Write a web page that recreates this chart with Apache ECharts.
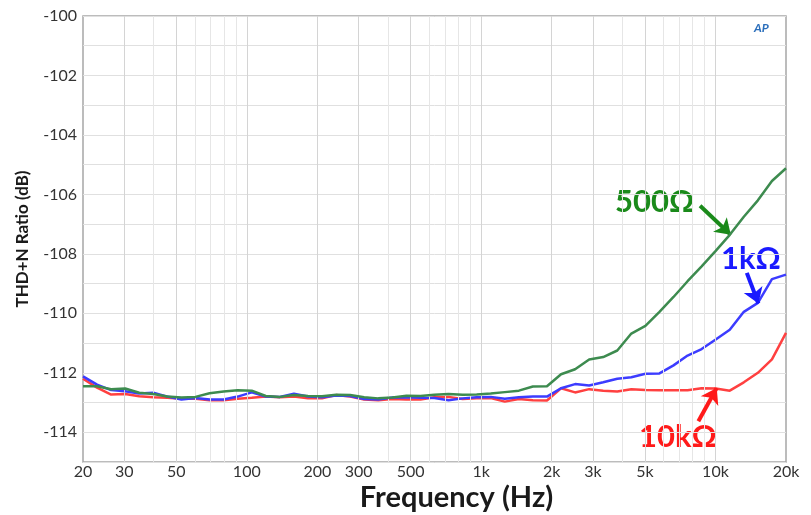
<!DOCTYPE html>
<html>
<head>
<meta charset="utf-8">
<script src="https://cdn.jsdelivr.net/npm/echarts@6/dist/echarts.min.js"></script>
<style>
  html, body { margin: 0; padding: 0; background: #fff; }
  #chart { width: 811px; height: 515px; }
</style>
</head>
<body>
<div id="chart"></div>
<script>
// Sweep frequencies (Hz)
var freqs = [20, 22.96, 26.36, 30.27, 34.76, 39.91, 45.82, 52.61, 60.41, 69.36,
  79.62, 91.42, 104.97, 120.5, 138.4, 158.9, 182.4, 209.4, 240.5, 276.1,
  317, 364, 418, 480, 551, 632, 726, 834, 957, 1099,
  1262, 1449, 1663, 1910, 2193, 2518, 2891, 3319, 3811, 4375,
  5024, 5768, 6622, 7604, 8730, 10024, 11509, 13214, 15172, 17420, 20000];

// THD+N ratio (dB) for each load
var thd500 = [-112.45, -112.45, -112.55, -112.53, -112.67, -112.71, -112.80, -112.83, -112.81, -112.69,
  -112.63, -112.59, -112.60, -112.78, -112.81, -112.75, -112.78, -112.79, -112.74, -112.75,
  -112.82, -112.86, -112.83, -112.77, -112.78, -112.74, -112.71, -112.74, -112.73, -112.70,
  -112.65, -112.60, -112.46, -112.45, -112.05, -111.88, -111.55, -111.47, -111.25, -110.68,
  -110.42, -109.95, -109.45, -108.92, -108.42, -107.90, -107.36, -106.75, -106.20, -105.55, -105.12];

var thd1k = [-112.12, -112.40, -112.58, -112.62, -112.70, -112.67, -112.80, -112.90, -112.85, -112.90,
  -112.90, -112.80, -112.66, -112.80, -112.81, -112.70, -112.80, -112.82, -112.76, -112.78,
  -112.88, -112.90, -112.83, -112.82, -112.84, -112.85, -112.92, -112.86, -112.82, -112.81,
  -112.87, -112.82, -112.80, -112.80, -112.52, -112.38, -112.43, -112.32, -112.20, -112.15,
  -112.03, -112.02, -111.75, -111.42, -111.20, -110.88, -110.55, -109.95, -109.65, -108.85, -108.70];

var thd10k = [-112.20, -112.50, -112.73, -112.71, -112.79, -112.82, -112.84, -112.87, -112.87, -112.92,
  -112.92, -112.87, -112.84, -112.80, -112.82, -112.80, -112.86, -112.86, -112.75, -112.80,
  -112.90, -112.92, -112.88, -112.90, -112.90, -112.82, -112.81, -112.88, -112.86, -112.85,
  -112.97, -112.88, -112.92, -112.93, -112.52, -112.66, -112.55, -112.60, -112.63, -112.55,
  -112.58, -112.59, -112.59, -112.59, -112.52, -112.53, -112.60, -112.32, -112.00, -111.55, -110.66];

// X axis ticks and grid
var tickFreqs = [20, 30, 50, 100, 200, 300, 500, 1000, 2000, 3000, 5000, 10000, 20000];
var tickLabels = ['20', '30', '50', '100', '200', '300', '500', '1k', '2k', '3k', '5k', '10k', '20k'];
var minorFreqs = [40, 60, 70, 80, 90, 400, 600, 700, 800, 900, 4000, 6000, 7000, 8000, 9000];

function pairs(ys) {
  return freqs.map(function (f, i) { return [f, ys[i]]; });
}

var font = 'Lato, "Open Sans", sans-serif';

var gridLines = [];
minorFreqs.forEach(function (f) {
  gridLines.push({ xAxis: f, label: { show: false }, lineStyle: { color: '#e6e6e6' } });
});
tickFreqs.forEach(function (f, i) {
  gridLines.push({
    xAxis: f,
    label: { show: true, position: 'start', formatter: tickLabels[i] },
    lineStyle: { color: (i === 0 || i === tickFreqs.length - 1) ? 'rgba(0,0,0,0)' : '#d4d4d4' }
  });
});

var chart = echarts.init(document.getElementById('chart'), null, { renderer: 'canvas' });

var option = {
  animation: false,
  backgroundColor: '#ffffff',
  grid: {
    left: 83, right: 25, top: 16, bottom: 53,
    outerBoundsMode: 'none',
    containLabel: false,
    show: true, borderColor: '#a6a6a6', borderWidth: 1.5, backgroundColor: 'transparent'
  },
  xAxis: {
    type: 'log',
    logBase: 10,
    min: 20,
    max: 20000,
    name: 'Frequency (Hz)',
    nameLocation: 'middle',
    nameGap: 21,
    nameTextStyle: { fontFamily: font, fontWeight: 'bold', fontSize: 29, color: '#1a1a1a', padding: [0, 0, 0, 44] },
    axisLine: { show: false },
    axisTick: { show: false },
    axisLabel: { show: false },
    splitLine: { show: false },
    minorSplitLine: { show: false }
  },
  yAxis: {
    type: 'value',
    min: -115,
    max: -100,
    interval: 1,
    name: 'THD+N Ratio (dB)',
    nameLocation: 'middle',
    nameGap: 52,
    nameTextStyle: { fontFamily: font, fontWeight: 'bold', fontSize: 17, color: '#1a1a1a' },
    axisLine: { show: false },
    axisTick: { show: false },
    axisLabel: {
      fontFamily: font, fontSize: 16, color: '#333', margin: 6,
      formatter: function (v) { return v % 2 === 0 ? String(v) : ''; }
    },
    splitLine: { show: true, lineStyle: { color: '#e0e0e0', width: 1 } }
  },
  series: [
    {
      name: 'grid',
      type: 'line',
      z: 1,
      clip: false,
      silent: true,
      symbol: 'none',
      data: [[20, -112.2]],
      lineStyle: { opacity: 0 },
      markLine: {
        silent: true,
        symbol: 'none',
        animation: false,
        label: { fontFamily: font, fontSize: 16, color: '#333', distance: 2 },
        lineStyle: { type: 'solid', width: 1 },
        data: gridLines
      }
    },
    {
      name: '10kΩ', type: 'line', z: 3, symbol: 'none', smooth: false,
      lineStyle: { color: '#ff4040', width: 2.5 },
      data: pairs(thd10k)
    },
    {
      name: '1kΩ', type: 'line', z: 4, symbol: 'none', smooth: false,
      lineStyle: { color: '#3c3cff', width: 2.5 },
      data: pairs(thd1k)
    },
    {
      name: '500Ω', type: 'line', z: 5, symbol: 'none', smooth: false,
      lineStyle: { color: '#3d8b4f', width: 2.5 },
      data: pairs(thd500)
    },
    {
      name: 'arrows',
      type: 'line',
      z: 6,
      silent: true,
      symbol: 'none',
      data: [[20, -112.2]],
      lineStyle: { opacity: 0 },
      markLine: {
        silent: true,
        animation: false,
        symbol: ['none', 'arrow'],
        symbolSize: 15,
        label: { show: false },
        data: [
          [{ coord: [8596, -106.38] }, { coord: [11628, -107.36], lineStyle: { color: '#1a8a1a', width: 4, type: 'solid' } }],
          [{ coord: [13610, -108.64] }, { coord: [15250, -109.67], lineStyle: { color: '#1a1aff', width: 4, type: 'solid' } }],
          [{ coord: [8454, -113.63] }, { coord: [10128, -112.51], lineStyle: { color: '#ff1a1a', width: 4, type: 'solid' } }]
        ]
      }
    }
  ],
  graphic: [
    { type: 'text', left: 615, top: 186, style: { text: '500Ω', fontFamily: font, fontWeight: 'bold', fontSize: 31, fill: '#1a8a1a' } },
    { type: 'text', left: 721, top: 243, style: { text: '1kΩ', fontFamily: font, fontWeight: 'bold', fontSize: 31, fill: '#1a1aff' } },
    { type: 'text', left: 639, top: 421, style: { text: '10kΩ', fontFamily: font, fontWeight: 'bold', fontSize: 31, fill: '#ff1a1a' } },
    { type: 'text', left: 754, top: 22, style: { text: 'AP', fontFamily: font, fontStyle: 'italic', fontWeight: 'bold', fontSize: 12, fill: '#2a6ebb' } }
  ]
};

chart.setOption(option);
</script>
</body>
</html>
